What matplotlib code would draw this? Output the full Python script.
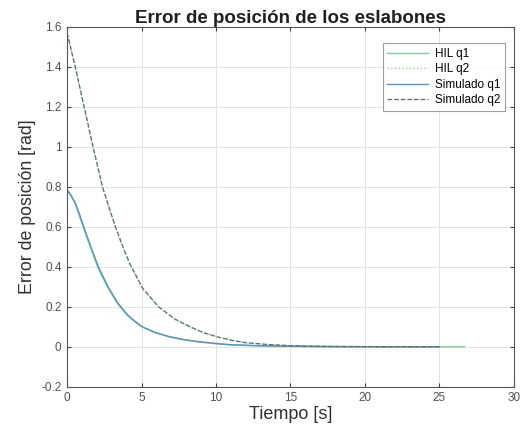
import matplotlib
matplotlib.use("Agg")
import matplotlib.pyplot as plt

# Simulated data
t_sim_q1 = [0, 0.25, 0.55, 0.85, 1.12, 1.6, 2.1, 2.75, 3.4, 4.05, 4.6, 5.05, 5.9, 6.9, 7.9, 8.9, 10, 11, 12.5, 14, 16, 18, 21, 25]
sim_q1 = [0.785, 0.76, 0.72, 0.66, 0.6, 0.5, 0.4, 0.3, 0.22, 0.16, 0.125, 0.1, 0.072, 0.05, 0.035, 0.025, 0.016, 0.01, 0.006, 0.003, 0.0015, 0.0005, 0.0, 0.0]
t_sim_q2 = [0, 0.55, 1.15, 1.75, 2.38, 2.85, 3.3, 3.75, 4.25, 5.1, 6.15, 7.2, 8.26, 9.1, 10.05, 11, 12, 13.5, 15, 16.5, 18, 21, 25]
sim_q2 = [1.571, 1.4, 1.2, 1.0, 0.8, 0.69, 0.59, 0.5, 0.41, 0.29, 0.2, 0.14, 0.1, 0.072, 0.05, 0.033, 0.02, 0.011, 0.005, 0.0025, 0.001, 0.0, 0.0]

# HIL data
t_hil_q1 = [0, 0.25, 0.55, 0.82, 1.08, 1.55, 2.05, 2.7, 3.35, 4.0, 4.55, 5.0, 5.85, 6.8, 7.8, 8.8, 10, 11, 12.5, 14, 16, 18, 21, 26.7]
hil_q1 = [0.785, 0.755, 0.715, 0.655, 0.6, 0.5, 0.4, 0.3, 0.22, 0.16, 0.125, 0.1, 0.072, 0.05, 0.035, 0.024, 0.015, 0.009, 0.005, 0.003, 0.0015, 0.0005, 0.0, 0.0]
t_hil_q2 = [0, 0.55, 1.13, 1.72, 2.35, 2.82, 3.27, 3.72, 4.2, 5.05, 6.1, 7.15, 8.2, 9.05, 10.0, 11, 12, 13.5, 15, 16.5, 18, 21, 26.7]
hil_q2 = [1.571, 1.4, 1.2, 1.0, 0.8, 0.69, 0.59, 0.5, 0.41, 0.29, 0.2, 0.14, 0.1, 0.072, 0.05, 0.033, 0.02, 0.011, 0.005, 0.0025, 0.001, 0.0, 0.0]

labels = ["HIL q1", "HIL q2", "Simulado q1", "Simulado q2"]
title = "Error de posición de los eslabones"
xlabel = "Tiempo [s]"
ylabel = "Error de posición [rad]"
xticks = [0, 5, 10, 15, 20, 25, 30]
yticks = [-0.2, 0, 0.2, 0.4, 0.6, 0.8, 1, 1.2, 1.4, 1.6]
ytick_labels = ['-0.2', '0', '0.2', '0.4', '0.6', '0.8', '1', '1.2', '1.4', '1.6']

plt.rcParams['font.family'] = ['Liberation Sans', 'DejaVu Sans']

fig = plt.figure(figsize=(5.28, 4.34), dpi=100)
ax = fig.add_axes([0.127, 0.109, 0.846, 0.829])

ax.plot(t_hil_q1, hil_q1, '-', color='#7fd0a0', lw=1.0, label=labels[0])
ax.plot(t_hil_q2, hil_q2, ':', color='#9bd89b', lw=1.0, label=labels[1])
ax.plot(t_sim_q1, sim_q1, '-', color='#5b8fb8', lw=1.0, label=labels[2])
ax.plot(t_sim_q2, sim_q2, '--', color='#5a6a66', lw=0.9, label=labels[3])

ax.set_xlim(0, 30)
ax.set_ylim(-0.2, 1.6)
ax.set_xticks(xticks)
ax.set_yticks(yticks)
ax.set_xticklabels([str(v) for v in xticks])
ax.set_yticklabels(ytick_labels)
ax.grid(True, color='#e3e3e3', lw=0.7)
ax.set_axisbelow(True)
ax.tick_params(direction='in', length=3, labelsize=8.5, colors='#404040', labelcolor='#505050', top=True, right=True, pad=4)
for s in ax.spines.values():
    s.set_color('#555555')
    s.set_linewidth(0.8)

ax.set_title(title, fontsize=13.5, fontweight='bold', color='#202020', pad=3)
ax.set_xlabel(xlabel, fontsize=13, color='#303030', labelpad=1)
ax.set_ylabel(ylabel, fontsize=12.8, color='#303030', labelpad=4)

leg = ax.legend(loc='upper right', fontsize=8.5, frameon=True, fancybox=False,
                edgecolor='#888888', handlelength=3.4, handletextpad=0.6, borderpad=0.4,
                labelspacing=0.3, borderaxespad=0, bbox_to_anchor=(0.98, 0.955))
leg.get_frame().set_linewidth(0.8)

fig.savefig("out.png", dpi=100)
